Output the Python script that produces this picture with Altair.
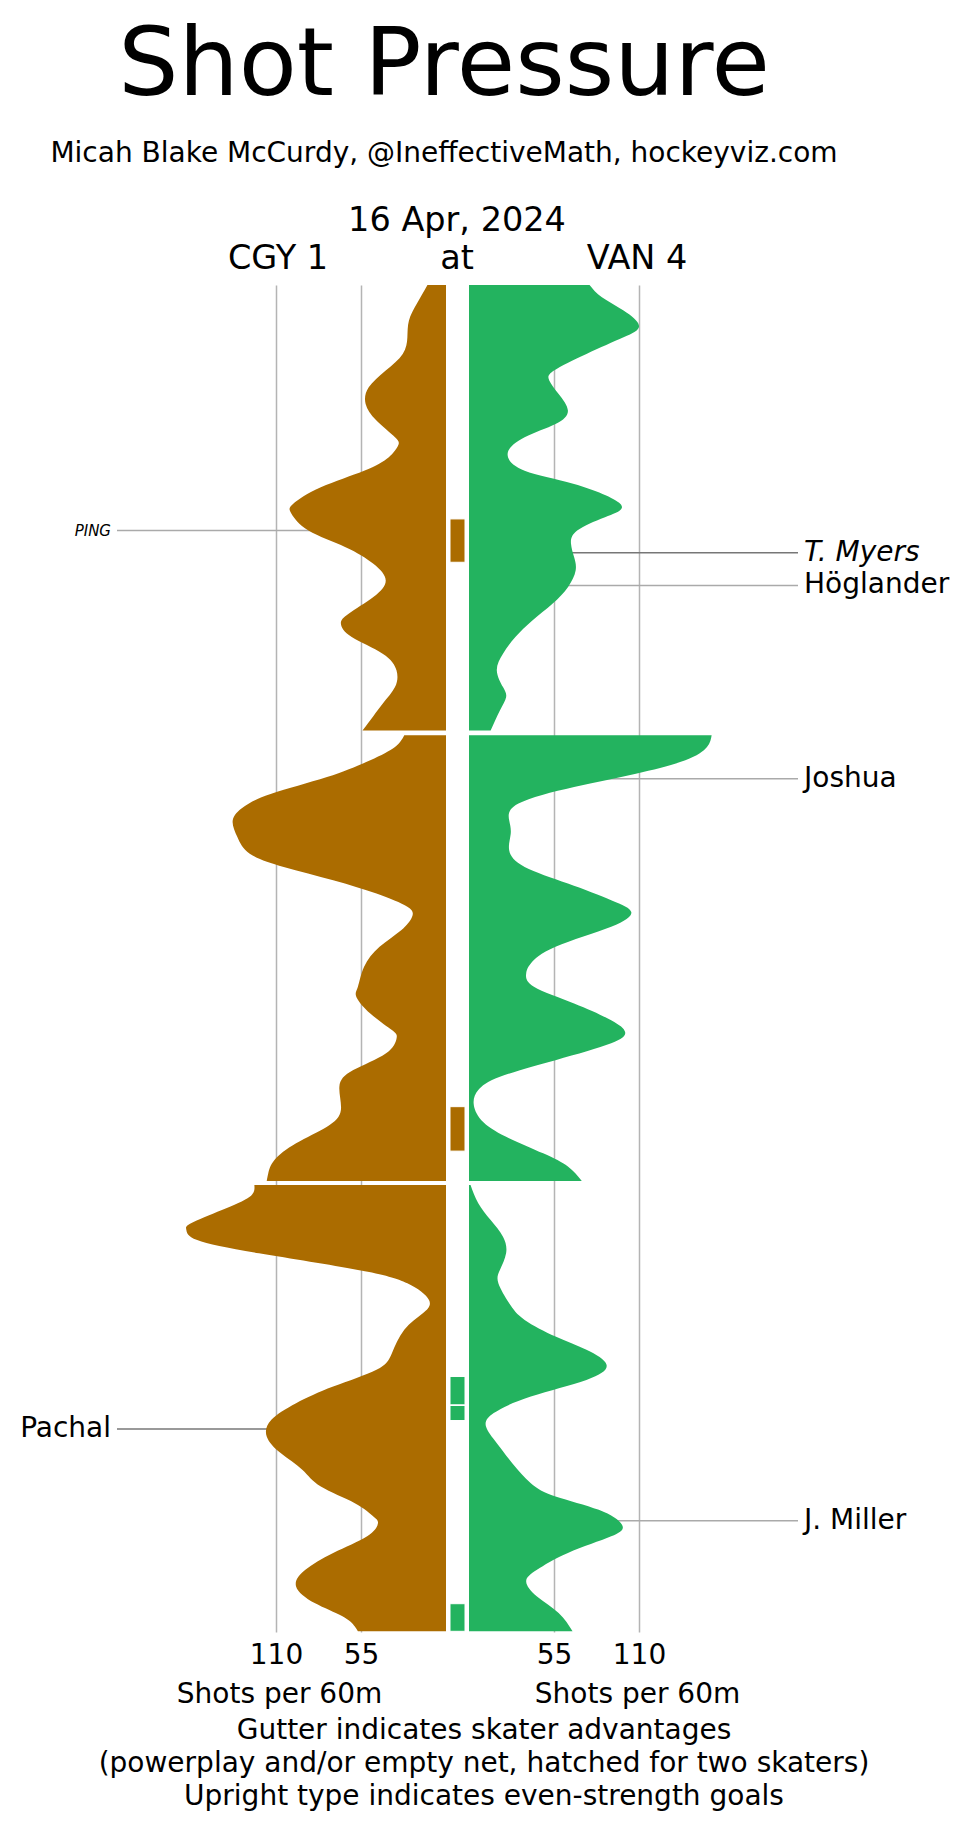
import altair as alt
import pandas as pd

# ---------------- data ----------------
# shot-rate density, shots per 60 minutes, by game minute
cgy_p1_t = [0.0, 0.85, 1.59, 2.33, 3.07, 3.81, 4.56, 5.30, 6.04, 6.78, 7.15, 7.67, 8.27, 9.01, 9.75, 10.19, 10.94, 11.68, 12.42, 13.16, 13.90, 14.64, 15.09, 15.68, 16.42, 17.17, 17.91, 18.65, 19.39, 19.84]
cgy_p1_v = [12, 19, 24, 25, 28, 39, 50, 52, 45, 33, 31, 37, 53, 81, 99, 100, 89, 65, 47, 39, 47, 63, 68, 61, 41, 32, 33, 41, 49, 54]
cgy_p2_t = [20.06, 20.58, 21.17, 21.92, 22.66, 23.25, 23.84, 24.59, 25.33, 25.92, 26.51, 27.11, 27.70, 28.15, 28.74, 29.48, 30.37, 31.26, 31.71, 32.45, 33.19, 33.56, 34.23, 34.97, 35.71, 36.75, 37.49, 38.23, 38.98, 39.57, 39.91]
cgy_p2_v = [27, 33, 49, 77, 113, 131, 138, 135, 127, 105, 73, 45, 25, 22, 29, 43, 53, 57, 58, 49, 35, 32, 39, 60, 69, 68, 77, 97, 111, 115, 116]
cgy_p3_t = [40.09, 40.61, 41.20, 41.79, 42.09, 42.54, 43.13, 43.87, 44.47, 45.21, 45.80, 46.54, 47.58, 48.32, 49.07, 49.81, 50.55, 51.29, 52.03, 52.77, 53.52, 54.26, 54.85, 55.15, 55.74, 56.48, 57.23, 57.97, 58.71, 59.30, 59.75, 59.97]
cgy_p3_v = [124, 127, 145, 165, 168, 161, 121, 57, 25, 11, 15, 27, 35, 45, 73, 97, 113, 116, 107, 93, 81, 59, 47, 44, 51, 73, 91, 97, 85, 67, 59, 57]

van_p1_t = [0.0, 0.55, 1.14, 1.81, 2.33, 3.07, 3.81, 4.26, 4.85, 5.59, 6.19, 6.78, 7.52, 8.27, 8.86, 9.75, 10.34, 10.94, 11.53, 12.12, 12.72, 13.46, 14.20, 14.94, 15.68, 16.42, 17.17, 17.91, 18.36, 18.95, 19.84]
van_p1_v = [78, 86, 100, 110, 100, 76, 55, 52, 58, 64, 56, 36, 25, 36, 68, 98, 88, 70, 66, 68, 69, 64, 54, 41, 30, 22, 18, 22, 24, 20, 14]
van_p2_t = [20.06, 20.58, 21.17, 21.77, 22.36, 23.10, 23.84, 24.44, 25.18, 25.92, 26.66, 27.40, 27.93, 28.59, 29.48, 30.22, 30.67, 31.26, 32.00, 32.75, 33.27, 33.78, 34.53, 35.27, 35.86, 36.45, 37.20, 37.94, 38.68, 39.27, 39.91]
van_p2_v = [157, 154, 140, 108, 68, 32, 26, 27, 26, 36, 64, 92, 105, 92, 56, 40, 37, 42, 68, 92, 101, 92, 56, 20, 6, 3, 8, 24, 48, 64, 73]
van_p3_t = [40.09, 40.90, 41.65, 42.39, 43.13, 43.87, 44.47, 45.36, 46.10, 46.84, 47.43, 48.10, 48.77, 49.51, 50.25, 50.85, 51.59, 52.48, 53.37, 53.96, 54.56, 55.22, 55.74, 56.48, 57.23, 57.75, 58.42, 59.15, 59.97]
van_p3_v = [1, 6, 14, 22, 24, 20, 19, 26, 36, 56, 76, 89, 76, 40, 16, 11, 18, 28, 40, 56, 84, 99, 92, 64, 44, 37, 44, 58, 67]

# skater-advantage intervals (gutter)
adv_team = ["CGY", "CGY", "VAN", "VAN", "VAN"]
adv_start = [10.42, 36.60, 48.62, 49.91, 58.74]
adv_end = [12.35, 38.58, 49.88, 50.58, 59.97]

# goals
goal_name = ["PING", "T. Myers", "Höglander", "Joshua", "Pachal", "J. Miller"]
goal_team = ["CGY", "VAN", "VAN", "VAN", "CGY", "VAN"]
goal_time = [10.94, 11.93, 13.38, 21.99, 50.96, 55.04]
goal_even = [False, False, True, True, True, True]

axis_ticks = [55, 110]

title_text = "Shot Pressure"
credit_text = "Micah Blake McCurdy, @IneffectiveMath, hockeyviz.com"
date_text = "16 Apr, 2024"
away_text, at_text, home_text = "CGY 1", "at", "VAN 4"
axis_title = "Shots per 60m"
footer_lines = ["Gutter indicates skater advantages",
                "(powerplay and/or empty net, hatched for two skaters)",
                "Upright type indicates even-strength goals"]

# ---------------- tables ----------------
def dens_rows(team, period, ts, vs):
    return [{"team": team, "period": period, "t": t, "v": v} for t, v in zip(ts, vs)]

cgy_df = pd.DataFrame(dens_rows("CGY", 1, cgy_p1_t, cgy_p1_v)
                      + dens_rows("CGY", 2, cgy_p2_t, cgy_p2_v)
                      + dens_rows("CGY", 3, cgy_p3_t, cgy_p3_v))
van_df = pd.DataFrame(dens_rows("VAN", 1, van_p1_t, van_p1_v)
                      + dens_rows("VAN", 2, van_p2_t, van_p2_v)
                      + dens_rows("VAN", 3, van_p3_t, van_p3_v))
adv_df = pd.DataFrame({"team": adv_team, "start": adv_start, "end": adv_end})
goal_df = pd.DataFrame({"name": goal_name, "team": goal_team, "t": goal_time, "even": goal_even})

# ---------------- style / layout ----------------
FONT = "DejaVu Sans"
BROWN = "#AB6C00"
GREEN = "#23B35F"
GRID = "#b4b4b4"
W = 942
H = 1347
PX = 85 / 55          # pixels per shot/60
L0 = 433              # left zero line (px in plot)
R0 = 456              # right zero line (px in plot)
CURVE = "natural"

yscale = alt.Scale(domain=[0, 60], reverse=True, nice=False, zero=False)
Y = alt.Y("t:Q", scale=yscale, axis=None)


def xaxis(title_x):
    return alt.Axis(values=axis_ticks, orient="bottom", grid=True, gridColor=GRID,
                    gridWidth=1.5, domain=False, ticks=False, labelFontSize=28,
                    labelFont=FONT, labelColor="black", labelPadding=9,
                    title=axis_title, titleFont=FONT, titleFontSize=28,
                    titleFontWeight="normal", titleColor="black", titleX=title_x,
                    titleAlign="center", titlePadding=11, labelFlush=False,
                    labelOverlap=False)


def one_text(txt, x, y, size, **kw):
    return alt.Chart(pd.DataFrame({"s": [txt]})).mark_text(
        font=FONT, fontSize=size, color="black", align="center",
        baseline="alphabetic", **kw).encode(text="s:N", x=alt.value(x), y=alt.value(y))


# label connector rules (under the areas)
cgy_goals = alt.Chart(goal_df).transform_filter(alt.datum.team == "CGY")
van_goals = alt.Chart(goal_df).transform_filter(alt.datum.team == "VAN")

left_rule_light = cgy_goals.transform_filter(alt.datum.name == "PING").mark_rule(
    color="#aaaaaa", strokeWidth=1.5).encode(x=alt.value(104), x2=alt.value(L0), y=Y)
left_rule_dark = cgy_goals.transform_filter(alt.datum.name != "PING").mark_rule(
    color="#777777", strokeWidth=1.5).encode(x=alt.value(104), x2=alt.value(L0), y=Y)
right_rule_light = van_goals.transform_filter(alt.datum.name != "T. Myers").mark_rule(
    color="#aaaaaa", strokeWidth=1.5).encode(x=alt.value(R0), x2=alt.value(785), y=Y)
right_rule_dark = van_goals.transform_filter(alt.datum.name == "T. Myers").mark_rule(
    color="#777777", strokeWidth=1.5).encode(x=alt.value(R0), x2=alt.value(785), y=Y)

left_area = alt.Chart(cgy_df).mark_area(orient="horizontal", interpolate=CURVE,
                                         color=BROWN).encode(
    x=alt.X("v:Q", stack=None,
            scale=alt.Scale(domain=[0, L0 / PX], range=[L0, 0], nice=False, zero=False),
            axis=xaxis(266)),
    y=Y, detail="period:N")

right_area = alt.Chart(van_df).mark_area(orient="horizontal", interpolate=CURVE,
                                          color=GREEN).encode(
    x=alt.X("v:Q", stack=None,
            scale=alt.Scale(domain=[0, (W - R0) / PX], range=[R0, W], nice=False, zero=False),
            axis=xaxis(624)),
    y=Y, detail="period:N")

gutter = alt.Chart(adv_df).mark_rect(stroke="white", strokeWidth=1).encode(
    x=alt.value(437), x2=alt.value(452),
    y=alt.Y("start:Q", scale=yscale, axis=None), y2="end:Q",
    color=alt.Color("team:N", scale=alt.Scale(domain=["CGY", "VAN"], range=[BROWN, GREEN]),
                    legend=None))

left_small = cgy_goals.transform_filter(alt.datum.name == "PING").mark_text(
    align="right", baseline="middle", font=FONT, fontSize=15, fontStyle="italic",
    color="black").encode(x=alt.value(98), y=Y, text="name:N")
left_big = cgy_goals.transform_filter(alt.datum.name != "PING").mark_text(
    align="right", baseline="middle", font=FONT, fontSize=28, color="black").encode(
    x=alt.value(98), y=Y, text="name:N")
right_italic = van_goals.transform_filter(alt.datum.even == False).mark_text(
    align="left", baseline="middle", font=FONT, fontSize=28, fontStyle="italic",
    color="black").encode(x=alt.value(791), y=Y, text="name:N")
right_upright = van_goals.transform_filter(alt.datum.even == True).mark_text(
    align="left", baseline="middle", font=FONT, fontSize=28, color="black").encode(
    x=alt.value(791), y=Y, text="name:N")

date_mark = one_text(date_text, 444, -54, 33.5)
away_mark = one_text(away_text, 265, -16, 33.5)
at_mark = one_text(at_text, 444, -16, 33.5)
home_mark = one_text(home_text, 624, -16, 33.5)
footer_mark = alt.Chart(pd.DataFrame({"s": [0]})).mark_text(
    text=footer_lines, font=FONT, fontSize=28, color="black", align="center",
    baseline="alphabetic", lineHeight=33).encode(x=alt.value(471), y=alt.value(1454))

chart = alt.layer(
    left_rule_light, left_rule_dark, right_rule_light, right_rule_dark,
    left_area, right_area, gutter,
    left_small, left_big, right_italic, right_upright,
    date_mark, away_mark, at_mark, home_mark, footer_mark,
).resolve_scale(x="independent", color="independent").properties(
    width=W, height=H,
    padding={"top": 11, "left": 5, "right": 5, "bottom": 2},
    title=alt.TitleParams(title_text, subtitle=credit_text,
                          font=FONT, fontSize=95, fontWeight="normal", color="black",
                          subtitleFont=FONT, subtitleFontSize=28, subtitleColor="black",
                          subtitlePadding=25, anchor="middle", dx=-40, offset=35)
).configure_view(stroke=None)

chart.save("out.html", embed_options={"renderer": "svg", "actions": False})
